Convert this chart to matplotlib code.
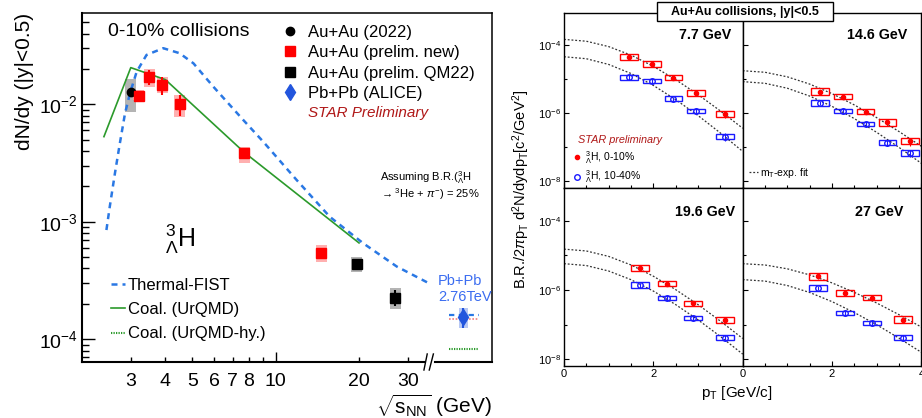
import numpy as np
import matplotlib
matplotlib.use("Agg")
import matplotlib.pyplot as plt
from matplotlib.patches import Rectangle
from matplotlib.lines import Line2D
from matplotlib.ticker import FixedLocator, FixedFormatter, NullFormatter

plt.rcParams['font.family'] = ['Liberation Sans', 'DejaVu Sans']
plt.rcParams['mathtext.fontset'] = 'custom'
plt.rcParams['mathtext.rm'] = 'Liberation Sans'
plt.rcParams['mathtext.it'] = 'Liberation Sans:italic'
plt.rcParams['mathtext.bf'] = 'Liberation Sans:bold'

# ---- left panel: dN/dy vs sqrt(sNN) ----
au22_x = [3.0]
au22_y = [1.26e-2]
au22_stat = [0.08e-2]
au22_sys_lo = [8.6e-3]
au22_sys_hi = [1.64e-2]

new_x = [3.2, 3.5, 3.9, 4.5, 7.7, 14.6]
new_y = [1.18e-2, 1.72e-2, 1.45e-2, 1.0e-2, 3.85e-3, 5.45e-4]
new_stat = [0.07e-2, 0.25e-2, 0.25e-2, 0.2e-2, 0.15e-3, 0.3e-4]
new_sys_lo = [1.09e-2, 1.40e-2, 1.24e-2, 7.85e-3, 3.18e-3, 4.5e-4]
new_sys_hi = [1.32e-2, 1.98e-2, 1.70e-2, 1.20e-2, 4.36e-3, 6.3e-4]

qm_x = [19.6, 27.0]
qm_y = [4.34e-4, 2.26e-4]
qm_stat = [0.2e-4, 0.35e-4]
qm_sys_lo = [3.75e-4, 1.80e-4]
qm_sys_hi = [5.0e-4, 2.71e-4]

# ALICE point sits right of the axis break
alice_x = [47.6]
alice_y = [1.54e-4]
alice_stat = [0.3e-4]
alice_sys_lo = [1.24e-4]
alice_sys_hi = [1.83e-4]

lhc_x = [42.4, 54.0]
lhc_fist = [1.6e-4, 1.6e-4]
lhc_other = [1.5e-4, 1.5e-4]
lhc_hy = [8.3e-5, 8.3e-5]

fist_x = [2.45, 2.52, 2.63, 2.74, 2.86, 2.98, 3.15, 3.42, 3.93, 4.5, 5.05, 5.96,
          7.64, 9.02, 11.9, 15.7, 20.7, 27.4, 36.1]
fist_y = [8.5e-4, 1.35e-3, 2.59e-3, 4.66e-3, 8.38e-3, 1.24e-2, 1.89e-2, 2.63e-2, 3.0e-2,
          2.72e-2, 2.23e-2, 1.41e-2, 7.35e-3, 4.8e-3, 2.27e-3, 1.10e-3, 6.56e-4, 4.15e-4, 2.96e-4]

urqmd_x = [2.4, 3.0, 4.0, 7.7, 20.0]
urqmd_y = [5.3e-3, 2.05e-2, 1.62e-2, 3.9e-3, 6.6e-4]

# ---- right panels: pT spectra ----
fit_pt = [0, 0.5, 1, 1.5, 2, 2.5, 3, 3.5, 4]

pt_77 = [1.45, 1.97, 2.45, 2.95, 3.6]
c010_77 = [4.55e-5, 2.78e-5, 1.11e-5, 3.95e-6, 9.6e-7]
c1040_77 = [1.14e-5, 8.9e-6, 2.7e-6, 1.17e-6, 2.04e-7]
fit_red_77 = [-3.83, -3.884, -4.042, -4.292, -4.621, -5.012, -5.451, -5.931, -6.44]
fit_blue_77 = [-4.34, -4.398, -4.566, -4.832, -5.182, -5.599, -6.066, -6.578, -7.12]

pt_146 = [1.74, 2.25, 2.75, 3.24, 3.74]
c010_146 = [4.3e-6, 3.1e-6, 1.12e-6, 5.4e-7, 1.5e-7]
c1040_146 = [2.0e-6, 1.2e-6, 4.9e-7, 1.35e-7, 6.8e-8]
fit_red_146 = [-4.75, -4.796, -4.930, -5.143, -5.423, -5.756, -6.129, -6.537, -6.97]
fit_blue_146 = [-5.07, -5.120, -5.265, -5.495, -5.797, -6.157, -6.560, -7.002, -7.47]

pt_196 = [1.70, 2.30, 2.89, 3.60]
c010_196 = [4.35e-6, 1.52e-6, 4.2e-7, 1.37e-7]
c1040_196 = [1.38e-6, 5.9e-7, 1.54e-7, 4.2e-8]
fit_red_196 = [-4.82, -4.873, -5.030, -5.277, -5.602, -5.989, -6.422, -6.897, -7.40]
fit_blue_196 = [-5.24, -5.294, -5.452, -5.702, -6.031, -6.422, -6.861, -7.341, -7.85]

pt_27 = [1.69, 2.29, 2.90, 3.59]
c010_27 = [2.5e-6, 8.2e-7, 6.0e-7, 1.4e-7]
c1040_27 = [1.15e-6, 2.2e-7, 1.12e-7, 4.2e-8]
fit_red_27 = [-5.24, -5.278, -5.389, -5.564, -5.795, -6.069, -6.376, -6.713, -7.07]
fit_blue_27 = [-5.70, -5.743, -5.871, -6.072, -6.336, -6.651, -7.004, -7.391, -7.80]

sys_red = [0.25, 0.2, 0.18, 0.25, 0.22]
sys_blue = [0.2, 0.15, 0.16, 0.18, 0.2]
stat_rel = [0.15, 0.12, 0.15, 0.2, 0.25]

RED = '#ff0000'
PINK = '#ffb0b0'
GRAY = '#b4b4b4'
FIST_BLUE = '#2a78e4'
GREEN = '#2b9a2b'
ALICE_BLUE = '#2255dd'
STAR_RED = '#b01818'

fig = plt.figure(figsize=(9.22, 4.18), dpi=100)

# ================= left panel =================
ax = fig.add_axes([82 / 922, 1 - 362 / 418, 410 / 922, 349 / 418])
ax.set_xscale('log')
ax.set_yscale('log')
ax.set_xlim(2.0, 60.4)
ax.set_ylim(6.4e-5, 5.98e-2)


def log_boxes(ax, xs, lo, hi, fac, color):
    for x, a, b in zip(xs, lo, hi):
        ax.add_patch(Rectangle((x / fac, a), x * fac - x / fac, b - a,
                               fc=color, ec='none', zorder=2))


log_boxes(ax, au22_x, au22_sys_lo, au22_sys_hi, 1.047, GRAY)
log_boxes(ax, new_x, new_sys_lo, new_sys_hi, 1.047, PINK)
log_boxes(ax, qm_x, qm_sys_lo, qm_sys_hi, 1.047, GRAY)
log_boxes(ax, alice_x, alice_sys_lo, alice_sys_hi, 1.04, '#b8c8f4')

ax.plot(fist_x, fist_y, color=FIST_BLUE, lw=1.8, ls=(0, (2.4, 2.0)), zorder=3)
ax.plot(urqmd_x, urqmd_y, color=GREEN, lw=1.2, zorder=3)
ax.plot(lhc_x, lhc_fist, color=FIST_BLUE, lw=1.6, ls=(0, (2.4, 2.0)), zorder=3)
ax.plot(lhc_x, lhc_other, color='#f08080', lw=1.2, ls=(0, (1, 1)), zorder=3)
ax.plot(lhc_x, lhc_hy, color=GREEN, lw=1.5, ls=(0, (0.6, 0.6)), zorder=3)

ax.errorbar(au22_x, au22_y, yerr=au22_stat, fmt='o', color='black', ms=6, lw=1.5, capsize=0, zorder=4)
ax.errorbar(new_x, new_y, yerr=new_stat, fmt='s', color=RED, ms=7, lw=1.5, capsize=0, zorder=4)
ax.errorbar(qm_x, qm_y, yerr=qm_stat, fmt='s', color='black', ms=7, lw=1.5, capsize=0, zorder=4)
ax.errorbar(alice_x, alice_y, yerr=alice_stat, fmt='d', color=ALICE_BLUE, ms=8, lw=1.5, capsize=0, zorder=4)

ax.xaxis.set_major_locator(FixedLocator([10]))
ax.xaxis.set_major_formatter(FixedFormatter(['10']))
ax.xaxis.set_minor_locator(FixedLocator([3, 4, 5, 6, 7, 8, 9, 20, 30]))
ax.xaxis.set_minor_formatter(FixedFormatter(['3', '4', '5', '6', '7', '8', '', '20', '30']))
ax.tick_params(axis='x', which='major', direction='in', length=7, width=1, labelsize=14, pad=8)
ax.tick_params(axis='x', which='minor', direction='in', length=3.6, width=1, labelsize=14, pad=8)
ax.tick_params(axis='y', which='major', direction='in', length=9, width=1, labelsize=14, pad=3)
ax.tick_params(axis='y', which='minor', direction='in', length=5, width=1)
ax.yaxis.set_major_locator(FixedLocator([1e-4, 1e-3, 1e-2]))
ax.yaxis.set_major_formatter(FixedFormatter([r'$10^{-4}$', r'$10^{-3}$', r'$10^{-2}$']))
ax.tick_params(top=False, right=False, which='both')

for s in ax.spines.values():
    s.set_linewidth(1.1)
ax.spines['left'].set_linewidth(1.5)
ax.spines['bottom'].set_visible(False)
# broken x axis
ax.plot([0, 0.833], [0, 0], transform=ax.transAxes, color='black', lw=1.5, clip_on=False)
ax.plot([0.862, 1], [0, 0], transform=ax.transAxes, color='black', lw=1.5, clip_on=False)
ax.plot([0.834, 0.842], [-0.023, 0.023], transform=ax.transAxes, color='black', lw=1, clip_on=False)
ax.plot([0.847, 0.857], [-0.023, 0.023], transform=ax.transAxes, color='black', lw=1, clip_on=False)

ax.set_ylabel('dN/dy (|y|<0.5)', fontsize=15, loc='top')
ax.yaxis.set_label_coords(-0.118, 1.0)
ax.set_xlabel(r'$\sqrt{\rm s_{NN}}$ (GeV)', fontsize=15, loc='right')
ax.xaxis.set_label_coords(1.0, -0.085)
ax.xaxis.label.set_va('top')

ax.text(0.063, 0.948, '0-10% collisions', transform=ax.transAxes, fontsize=14, va='center')
ax.text(0.551, 0.713, 'STAR Preliminary', transform=ax.transAxes, fontsize=11,
        style='italic', color=STAR_RED, va='center')
ax.text(0.727, 0.528, r'Assuming B.R.($^{3}_{\Lambda}$H', transform=ax.transAxes, fontsize=8, va='center')
ax.text(0.727, 0.482, r'$\rightarrow$$^{3}$He + $\pi^{-}$) = 25%', transform=ax.transAxes, fontsize=8, va='center')
ax.text(0.202, 0.330, r'$^{3}_{\Lambda}$H', transform=ax.transAxes, fontsize=18, va='baseline')
ax.text(0.868, 0.209, 'Pb+Pb\n2.76TeV', transform=ax.transAxes, fontsize=10.5,
        color='#3a6cf0', va='center', linespacing=1.15)

h1 = [Line2D([], [], marker='o', color='black', ls='none', ms=6),
      Line2D([], [], marker='s', color=RED, ls='none', ms=7),
      Line2D([], [], marker='s', color='black', ls='none', ms=7),
      Line2D([], [], marker='d', color=ALICE_BLUE, ls='none', ms=8)]
leg1 = ax.legend(h1, ['Au+Au (2022)', 'Au+Au (prelim. new)', 'Au+Au (prelim. QM22)', 'Pb+Pb (ALICE)'],
                 loc='upper left', bbox_to_anchor=(282 / 922, 1 - 25 / 418), bbox_transform=fig.transFigure,
                 frameon=False, fontsize=12, handlelength=1.0, handletextpad=0.55,
                 labelspacing=0.32, borderpad=0, borderaxespad=0)
ax.add_artist(leg1)
h2 = [Line2D([], [], color=FIST_BLUE, lw=1.8, ls=(0, (2.4, 2.0))),
      Line2D([], [], color=GREEN, lw=1.2),
      Line2D([], [], color=GREEN, lw=1.5, ls=(0, (0.6, 0.6)))]
ax.legend(h2, ['Thermal-FIST', 'Coal. (UrQMD)', 'Coal. (UrQMD-hy.)'],
          loc='upper left', bbox_to_anchor=(111 / 922, 1 - 278 / 418), bbox_transform=fig.transFigure,
          frameon=False, fontsize=12, handlelength=0.85, handletextpad=0.15,
          labelspacing=0.55, borderpad=0, borderaxespad=0)

# ================= right panels =================
col_x = [564 / 922, 742.7 / 922]
row_b = [1 - 188 / 418, 1 - 366 / 418]
row_h = [175 / 418, 178 / 418]
pw = 178.7 / 922

panels = [
    ('7.7 GeV', pt_77, c010_77, c1040_77, fit_red_77, fit_blue_77, 0, 0, (0.938, 0.874)),
    ('14.6 GeV', pt_146, c010_146, c1040_146, fit_red_146, fit_blue_146, 0, 1, (0.919, 0.874)),
    ('19.6 GeV', pt_196, c010_196, c1040_196, fit_red_196, fit_blue_196, 1, 0, (0.957, 0.865)),
    ('27 GeV', pt_27, c010_27, c1040_27, fit_red_27, fit_blue_27, 1, 1, (0.897, 0.865)),
]

axes_r = {}
for label, pt, red, blue, fr, fb, r, c, lpos in panels:
    a = fig.add_axes([col_x[c], row_b[r], pw, row_h[r]])
    axes_r[(r, c)] = a
    a.set_yscale('log')
    a.set_xlim(0, 4)
    a.set_ylim(6.4e-9, 8.8e-4)
    a.plot(fit_pt, np.power(10.0, fr), color='#333333', lw=0.9, ls=(0, (1.5, 1.5)), zorder=2)
    a.plot(fit_pt, np.power(10.0, fb), color='#333333', lw=0.9, ls=(0, (1.5, 1.5)), zorder=2)
    n = len(pt)
    for x, y, s in zip(pt, red, sys_red[:n]):
        a.add_patch(Rectangle((x - 0.2, y / (1 + s)), 0.4, y * (1 + s) - y / (1 + s),
                              fill=False, ec=RED, lw=1.0, zorder=3))
    for x, y, s in zip(pt, blue, sys_blue[:n]):
        a.add_patch(Rectangle((x - 0.2, y / (1 + s)), 0.4, y * (1 + s) - y / (1 + s),
                              fill=False, ec='#1a1aff', lw=1.0, zorder=3))
    red_e = [y * s for y, s in zip(red, stat_rel[:n])]
    blue_e = [y * s for y, s in zip(blue, stat_rel[:n])]
    a.errorbar(pt, red, yerr=red_e, fmt='o', color=RED, ms=3, lw=0.8, capsize=0, zorder=4)
    a.errorbar(pt, blue, yerr=blue_e, fmt='o', color='#1a1aff', mfc='none', ms=4, mew=1,
               lw=0.8, capsize=0, zorder=4)
    a.text(lpos[0], lpos[1], label, transform=a.transAxes, fontsize=10.3,
           fontweight='bold', ha='right', va='center')

    a.yaxis.set_major_locator(FixedLocator([1e-8, 1e-6, 1e-4]))
    a.yaxis.set_minor_locator(FixedLocator([1e-7, 1e-5]))
    a.yaxis.set_minor_formatter(NullFormatter())
    a.xaxis.set_major_locator(FixedLocator([0, 2, 4]))
    a.xaxis.set_minor_locator(FixedLocator([0.5, 1, 1.5, 2.5, 3, 3.5]))
    a.tick_params(which='major', direction='in', length=3.5, width=0.8, labelsize=8, pad=2)
    a.tick_params(which='minor', direction='in', length=2.5, width=0.8)
    a.tick_params(top=False, right=False, which='both')
    if c == 0:
        a.yaxis.set_major_formatter(FixedFormatter([r'$10^{-8}$', r'$10^{-6}$', r'$10^{-4}$']))
    else:
        a.yaxis.set_major_formatter(NullFormatter())
    if r == 1:
        a.xaxis.set_major_formatter(FixedFormatter(['0', '2', '4'] if c == 1 else ['0', '2', '']))
    else:
        a.xaxis.set_major_formatter(NullFormatter())
    for s in a.spines.values():
        s.set_linewidth(1.0)

a77 = axes_r[(0, 0)]
a77.text(0.078, 0.274, 'STAR preliminary', transform=a77.transAxes, fontsize=7.8,
         style='italic', color=STAR_RED, va='center')
hr = [Line2D([], [], marker='o', color=RED, ls='none', ms=3),
      Line2D([], [], marker='o', color='#1a1aff', mfc='none', ls='none', ms=4, mew=1)]
a77.legend(hr, [r'$^{3}_{\Lambda}$H, 0-10%', r'$^{3}_{\Lambda}$H, 10-40%'],
           loc='upper left', bbox_to_anchor=(574 / 922, 1 - 149 / 418), bbox_transform=fig.transFigure,
           frameon=False, fontsize=7.5, handlelength=0.6, handletextpad=0.45,
           labelspacing=0.25, borderpad=0, borderaxespad=0)
a146 = axes_r[(0, 1)]
a146.legend([Line2D([], [], color='#333333', lw=0.9, ls=(0, (1.5, 1.5)))], [r'm$_{\rm T}$-exp. fit'],
            loc='upper left', bbox_to_anchor=(749 / 922, 1 - 166 / 418), bbox_transform=fig.transFigure,
            frameon=False, fontsize=7.5, handlelength=0.9, handletextpad=0.2,
            borderpad=0, borderaxespad=0)

fig.patches.append(Rectangle((657 / 922, 1 - 21 / 418), 176 / 922, 19 / 418, transform=fig.transFigure,
                             fc='white', ec='black', lw=1.0, zorder=10))
fig.text(745 / 922, 1 - 11.5 / 418, 'Au+Au collisions, |y|<0.5', fontsize=9, fontweight='bold',
         ha='center', va='center', zorder=11)
fig.text(521.7 / 922, 1 - 189.5 / 418,
         r'B.R./2$\pi$p$_{\rm T}$ d$^{2}$N/dydp$_{\rm T}$[c$^{2}$/GeV$^{2}$]',
         rotation=90, fontsize=10.5, ha='center', va='center')
fig.text(736.7 / 922, 1 - 393 / 418, r'p$_{\rm T}$ [GeV/c]', fontsize=11, ha='center', va='center')

fig.savefig('out.png', dpi=100)
